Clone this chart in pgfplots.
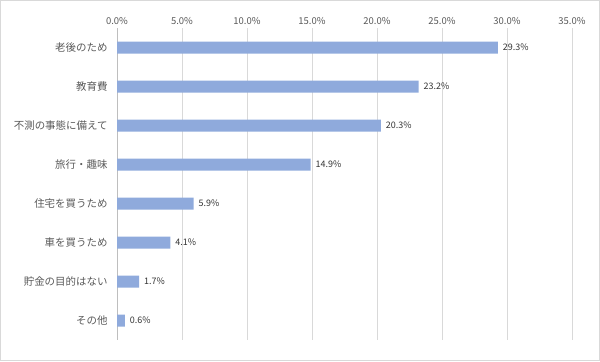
\documentclass[border=0pt]{standalone}
\usepackage{pgfplots}
\pgfplotsset{compat=1.18}
\usepackage{fontspec}
\setmainfont{Noto Sans CJK JP}
\definecolor{barc}{HTML}{8FAADC}
\definecolor{gridc}{HTML}{D9D9D9}
\definecolor{txtc}{HTML}{595959}
\begin{document}
\begin{tikzpicture}[x=1bp,y=1bp]
\draw[gridc, line width=1bp] (0.5,0.5) rectangle (599.5,360.5);
\begin{axis}[
  at={(117bp,21bp)}, anchor=south west,
  scale only axis, width=455bp, height=312bp,
  xbar, bar width=12bp,
  xmin=0, xmax=35, xtick={0,5,...,35},
  axis x line*=top,
  xticklabel={\pgfmathprintnumber[fixed,fixed zerofill,precision=1]{\tick}\%},
  /pgf/number format/assume math mode=true,
  xticklabel style={font=\fontsize{9.5}{11}\selectfont, text=txtc},
  ymin=-0.5, ymax=7.5, y dir=reverse,
  ytick={0,...,7},
  yticklabels={老後のため,教育費,不測の事態に備えて,旅行・趣味,住宅を買うため,車を買うため,貯金の目的はない,その他},
  yticklabel style={font=\fontsize{10.5}{12}\selectfont, text=txtc, xshift=-6bp},
  major tick length=0pt,
  xmajorgrids, grid style={gridc, line width=0.8bp},
  axis line style={draw=none},
  extra x ticks={0}, extra x tick labels={}, extra x tick style={grid style={gridc!70!gray, line width=0.8bp}},
  nodes near coords={\pgfmathprintnumber[fixed,fixed zerofill,precision=1]{\pgfplotspointmeta}\%},
  nodes near coords style={font=\fontsize{9}{10}\selectfont, text=black!80, /pgf/number format/assume math mode=true, xshift=1.5bp},
  clip=false,
]
\addplot[fill=barc, draw=none] coordinates {
(29.3,0) (23.2,1) (20.3,2) (14.9,3) (5.9,4) (4.1,5) (1.7,6) (0.6,7)};
\end{axis}
\end{tikzpicture}
\end{document}
